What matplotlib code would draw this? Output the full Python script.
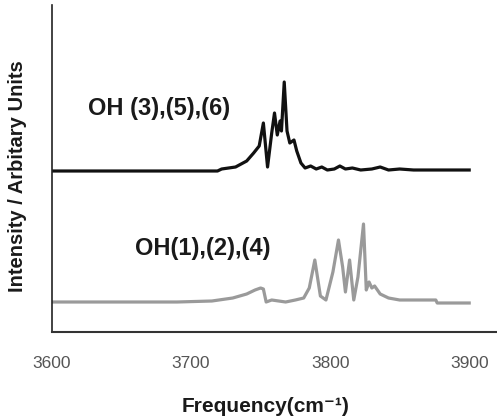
import numpy as np
import matplotlib
matplotlib.use("Agg")
import matplotlib.pyplot as plt

plt.rcParams['font.family'] = ['Liberation Sans', 'DejaVu Sans']

# --- data ---
# OH (3),(5),(6) spectrum, upper trace
freq_a = [3600, 3700, 3719, 3722, 3732, 3740, 3745, 3749, 3752, 3755, 3758, 3760,
          3762, 3764, 3765, 3767, 3769, 3771, 3774, 3776, 3779, 3782, 3786, 3790,
          3794, 3798, 3803, 3807, 3811, 3816, 3822, 3830, 3836, 3842, 3850, 3860, 3900]
int_a = [0, 0, 0, 2, 4, 10, 18, 25, 48, 4, 38, 58,
         36, 50, 40, 89, 40, 28, 31, 20, 8, 3, 5, 2,
         4, 1, 2, 5, 2, 3, 1, 2, 4, 1, 2, 1, 1]

# OH(1),(2),(4) spectrum, lower trace
freq_b = [3600, 3690, 3715, 3730, 3740, 3746, 3750, 3752, 3754, 3758, 3763, 3768,
          3775, 3781, 3785, 3789, 3793, 3797, 3802, 3806, 3809, 3811, 3814, 3817,
          3820, 3824, 3826, 3828, 3830, 3832, 3836, 3842, 3850, 3876, 3877, 3900]
int_b = [0, 0, 1, 4, 8, 12, 14, 13, 0, 2, 1, 0,
         2, 4, 14, 42, 6, 2, 30, 62, 35, 10, 42, 2,
         25, 78, 12, 20, 14, 16, 8, 4, 2, 2, -1, -1]

offset_a = 1.61
offset_b = 0.30

ticks = [3600, 3700, 3800, 3900]
label_a = "OH (3),(5),(6)"
label_b = "OH(1),(2),(4)"

# --- plot ---
fig = plt.figure(figsize=(4.97, 4.18), dpi=100)
ax = fig.add_axes([52 / 497, 86 / 418, 445 / 497, 327 / 418])

ax.plot(freq_a, offset_a + np.array(int_a) / 100, color='#111111', lw=2.3)
ax.plot(freq_b, offset_b + np.array(int_b) / 100, color='#9a9a9a', lw=2.3)

ax.set_xlim(3600, 3920)
ax.set_ylim(0, 3.27)
ax.set_xticks(ticks)
ax.set_yticks([])
ax.tick_params(axis='x', length=0, pad=17, labelsize=12.5, labelcolor='#555555')
for s in ['top', 'right']:
    ax.spines[s].set_visible(False)
ax.spines['left'].set_color('#222222')
ax.spines['bottom'].set_color('#333333')
ax.spines['left'].set_linewidth(1.2)
ax.spines['bottom'].set_linewidth(1.5)

ax.text(3626, 2.24, label_a, fontsize=17, fontweight='bold', color='#1a1a1a', va='center')
ax.text(3660, 0.83, label_b, fontsize=17, fontweight='bold', color='#1a1a1a', va='center')

fig.text(18 / 497, 1 - 176 / 418, "Intensity / Arbitary Units", rotation=90,
         fontsize=14.5, fontweight='bold', color='#1a1a1a', ha='center', va='center')
fig.text(266 / 497, 1 - 407 / 418, "Frequency(cm⁻¹)", fontsize=15,
         fontweight='bold', color='#1a1a1a', ha='center', va='center')

fig.savefig("out.png", dpi=100)
